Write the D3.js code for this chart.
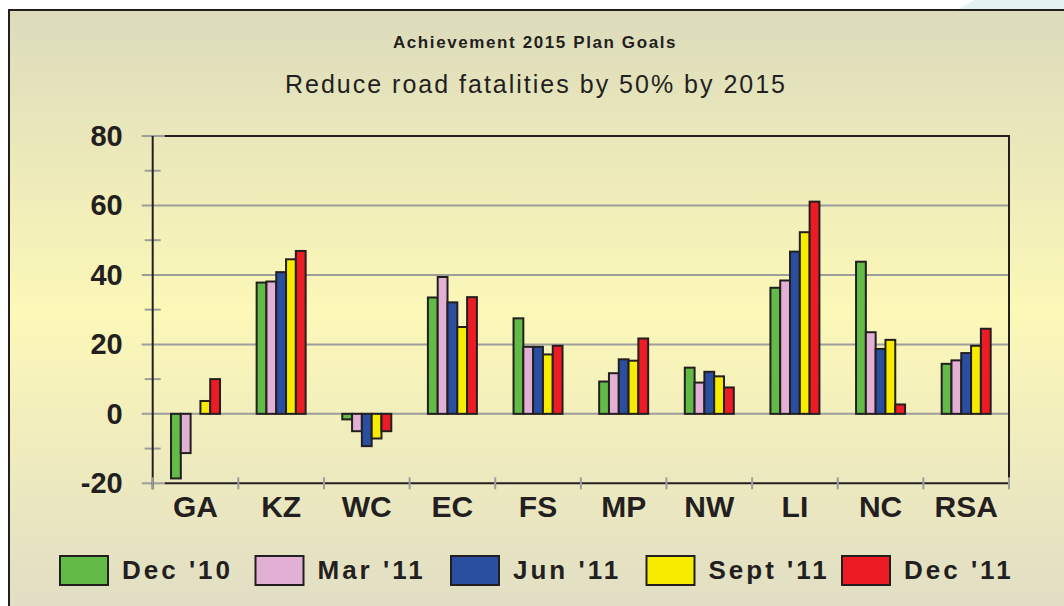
<!DOCTYPE html>
<html>
<head>
<meta charset="utf-8">
<script src="https://cdn.jsdelivr.net/npm/d3@7"></script>
<style>
  body { margin: 0; background: #fff; }
  svg { display: block; }
  text { font-family: "Liberation Sans", Arial, sans-serif; fill: #231f20; }
</style>
</head>
<body>
<div id="chart"></div>
<script>
var categories = ["GA", "KZ", "WC", "EC", "FS", "MP", "NW", "LI", "NC", "RSA"];
var seriesNames = ["Dec '10", "Mar '11", "Jun '11", "Sept '11", "Dec '11"];
var seriesColors = ["#62bb46", "#e3b0d5", "#2b4fa0", "#f7ec00", "#ed1c24"];

var dec10  = [-18.6, 37.8, -1.6, 33.5, 27.5,  9.3, 13.3, 36.3, 43.8, 14.4];
var mar11  = [-11.3, 38.1, -5.0, 39.4, 19.3, 11.7,  9.0, 38.4, 23.5, 15.4];
var jun11  = [  0.0, 40.8, -9.3, 32.1, 19.3, 15.7, 12.1, 46.7, 18.7, 17.5];
var sept11 = [  3.7, 44.5, -7.1, 25.0, 17.1, 15.3, 10.8, 52.3, 21.3, 19.6];
var dec11  = [ 10.0, 46.9, -5.0, 33.6, 19.6, 21.7,  7.6, 61.1,  2.7, 24.5];

var yTicks = [80, 60, 40, 20, 0, -20];
var yTickLabels = ["80", "60", "40", "20", "0", "-20"];
var yMinor = [70, 50, 30, 10, -10];

var titleText = "Achievement 2015 Plan Goals";
var subtitleText = "Reduce road fatalities by 50% by 2015";

var allSeries = [dec10, mar11, jun11, sept11, dec11];

var W = 1064, H = 606;
var plot = {left: 152.7, right: 1009, top: 136, bottom: 483.3};

var svg = d3.select("#chart")
  .append("svg")
  .attr("width", W)
  .attr("height", H);

// background panel with vertical gradient
var defs = svg.append("defs");
var grad = defs.append("linearGradient")
  .attr("id", "bg")
  .attr("x1", 0).attr("y1", 0).attr("x2", 0).attr("y2", 1);
grad.append("stop").attr("offset", "0%").attr("stop-color", "#dcdbbc");
grad.append("stop").attr("offset", "50%").attr("stop-color", "#fcf8b8");
grad.append("stop").attr("offset", "100%").attr("stop-color", "#e0ddc5");

svg.append("path")
  .attr("d", "M958,9 L975,0 L1064,0 L1064,9 Z")
  .style("fill", "#e4f2f2");

svg.append("rect")
  .attr("x", 8).attr("y", 9)
  .attr("width", W).attr("height", H)
  .style("fill", "url(#bg)");
svg.append("path")
  .attr("d", "M9," + H + " L9,10 L" + W + ",10")
  .style("fill", "none")
  .style("stroke", "#231f20")
  .style("stroke-width", 2);

// titles
svg.append("text")
  .attr("x", 535).attr("y", 48)
  .attr("text-anchor", "middle")
  .style("font-size", "17px")
  .style("font-weight", "bold")
  .style("letter-spacing", "1.6px")
  .text(titleText);

svg.append("text")
  .attr("x", 536).attr("y", 93)
  .attr("text-anchor", "middle")
  .style("font-size", "25px")
  .style("letter-spacing", "2px")
  .text(subtitleText);

// scales
var x0 = d3.scaleBand()
  .domain(categories)
  .range([plot.left, plot.right]);

var groupW = 49;
var x1 = d3.scaleBand()
  .domain(seriesNames)
  .range([(x0.bandwidth() - groupW) / 2, (x0.bandwidth() + groupW) / 2]);

var y = d3.scaleLinear()
  .domain([-20, 80])
  .range([plot.bottom, plot.top]);

// gridlines
svg.append("g")
  .selectAll("line")
  .data(yTicks.slice(1, 5))
  .enter()
  .append("line")
    .attr("x1", plot.left - 11)
    .attr("x2", plot.right)
    .attr("y1", function(d) { return y(d); })
    .attr("y2", function(d) { return y(d); })
    .style("stroke", "#9d9d9b")
    .style("stroke-width", 2);

// gray tick stubs for 80 and -20
svg.append("g")
  .selectAll("line")
  .data([80, -20])
  .enter()
  .append("line")
    .attr("x1", plot.left - 11)
    .attr("x2", plot.left + 12)
    .attr("y1", function(d) { return y(d); })
    .attr("y2", function(d) { return y(d); })
    .style("stroke", "#9d9d9b")
    .style("stroke-width", 2);

// minor ticks
svg.append("g")
  .selectAll("line")
  .data(yMinor)
  .enter()
  .append("line")
    .attr("x1", plot.left - 8)
    .attr("x2", plot.left + 8)
    .attr("y1", function(d) { return y(d); })
    .attr("y2", function(d) { return y(d); })
    .style("stroke", "#9d9d9b")
    .style("stroke-width", 2);

// plot frame (top, right, bottom, left)
svg.append("path")
  .attr("d", "M" + (plot.left + 12) + "," + y(80) + " L" + plot.right + "," + y(80) +
             " L" + plot.right + "," + y(-20) + " L" + (plot.left + 12) + "," + y(-20))
  .style("fill", "none")
  .style("stroke", "#231f20")
  .style("stroke-width", 2);
svg.append("line")
  .attr("x1", plot.left).attr("x2", plot.left)
  .attr("y1", y(80)).attr("y2", y(-20) + 6)
  .style("stroke", "#231f20")
  .style("stroke-width", 2);

// x tick marks at band edges
var edges = categories.map(function(c) { return x0(c); }).concat([plot.right]);
svg.append("g")
  .selectAll("line")
  .data(edges)
  .enter()
  .append("line")
    .attr("x1", function(d) { return d; })
    .attr("x2", function(d) { return d; })
    .attr("y1", plot.bottom - 6)
    .attr("y2", plot.bottom + 6)
    .style("stroke", "#9d9d9b")
    .style("stroke-width", 2);

// bars
var groups = svg.append("g")
  .selectAll("g")
  .data(categories)
  .enter()
  .append("g")
    .attr("transform", function(d) { return "translate(" + x0(d) + ",0)"; });

groups.selectAll("rect")
  .data(function(d, i) {
    return seriesNames.map(function(s, j) { return {key: s, idx: j, value: allSeries[j][i]}; });
  })
  .enter()
  .append("rect")
    .attr("x", function(d) { return x1(d.key); })
    .attr("width", x1.bandwidth())
    .attr("y", function(d) { return y(Math.max(0, d.value)); })
    .attr("height", function(d) { return Math.abs(y(d.value) - y(0)); })
    .style("fill", function(d) { return seriesColors[d.idx]; })
    .style("stroke", "#231f20")
    .style("stroke-width", 2);

// y axis labels
var yAxis = svg.append("g")
  .attr("transform", "translate(" + plot.left + ",0)")
  .call(d3.axisLeft(y).tickValues(yTicks).tickSize(0).tickPadding(30)
    .tickFormat(function(d, i) { return yTickLabels[i]; }));
yAxis.select(".domain").remove();
yAxis.selectAll("text")
  .style("font-family", "'Liberation Sans', Arial, sans-serif")
  .style("font-size", "29px")
  .style("font-weight", "bold")
  .style("fill", "#231f20");

// x axis labels
var xAxis = svg.append("g")
  .attr("transform", "translate(0," + plot.bottom + ")")
  .call(d3.axisBottom(x0).tickSize(0).tickPadding(12));
xAxis.select(".domain").remove();
xAxis.selectAll("text")
  .style("font-family", "'Liberation Sans', Arial, sans-serif")
  .style("font-size", "30px")
  .style("font-weight", "bold")
  .style("fill", "#231f20");

// legend
var legend = svg.append("g")
  .selectAll("g")
  .data(seriesNames)
  .enter()
  .append("g")
    .attr("transform", function(d, i) { return "translate(" + (60 + i * 195.5) + ",556)"; });

legend.append("rect")
  .attr("width", 48)
  .attr("height", 29)
  .style("fill", function(d, i) { return seriesColors[i]; })
  .style("stroke", "#231f20")
  .style("stroke-width", 2);

legend.append("text")
  .attr("x", 62)
  .attr("y", 23)
  .style("font-size", "26px")
  .style("font-weight", "bold")
  .style("letter-spacing", "3px")
  .text(function(d) { return d; });
</script>
</body>
</html>
